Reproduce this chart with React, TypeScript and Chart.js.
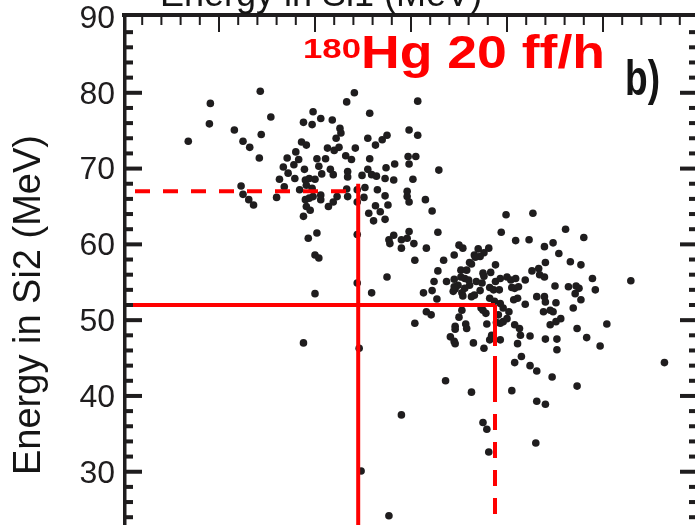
import { useEffect, useRef } from "react";
import { Chart, registerables } from "chart.js";

Chart.register(...registerables);

// Energy (MeV) deposited in Si1 / Si2 for each coincidence event, upper group
const upperSi1 = [
  36.8, 39.1, 39.0, 44.3, 45.4, 41.6, 44.4, 42.5, 43.2, 44.2, 42.3, 42.5, 43.1, 43.6, 46.0, 46.3,
  46.7, 47.1, 46.8, 47.2, 47.8, 48.0, 48.3, 48.6, 49.1, 48.8, 49.7, 49.8, 50.6, 51.8, 52.6, 52.7,
  52.2, 51.3, 52.0, 52.5, 53.3, 54.1, 55.7, 55.5, 56.3, 57.0, 57.5, 59.8, 60.7, 60.7, 54.2, 53.2,
  53.8, 55.7, 48.9, 50.2, 51.1, 50.4, 50.7, 51.6, 51.9, 53.4, 53.4, 54.9, 55.5, 55.9, 56.4, 57.4,
  58.3, 57.3, 58.2, 59.7, 59.8, 60.2, 60.5, 47.9, 49.0, 49.4, 49.1, 50.0, 49.7, 48.4, 49.8, 49.0,
  49.4, 50.6, 50.6, 49.1, 49.5, 51.4, 51.9, 52.3, 53.4, 53.3, 54.4, 54.4, 55.1, 55.2, 56.5, 57.3,
  56.3, 57.6, 56.8, 55.6, 56.1, 57.3, 59.6, 59.8, 59.6, 48.8, 50.2, 49.3, 54.4, 57.7, 58.2, 59.0,
  59.8, 59.6, 60.3, 59.0, 57.8, 50.0, 50.4, 60.4, 62.9, 61.5, 62.2, 69.9, 72.7, 61.6, 62.8,
];
const upperSi2 = [
  73.6, 78.6, 75.9, 80.2, 76.8, 75.1, 74.5, 73.6, 72.8, 71.4, 67.7, 66.6, 65.9, 65.2, 66.2, 68.6,
  70.2, 71.4, 67.6, 69.4, 70.5, 72.2, 71.2, 73.5, 73.1, 76.1, 75.8, 77.5, 76.6, 76.4, 75.3, 74.7,
  74.0, 72.7, 72.4, 72.8, 78.8, 80.0, 77.3, 74.0, 73.1, 73.8, 74.4, 75.1, 74.4, 78.9, 72.7, 71.7,
  71.2, 71.3, 69.9, 71.3, 71.3, 70.3, 69.3, 69.9, 69.2, 69.6, 68.9, 69.1, 69.9, 69.2, 69.0, 70.1,
  70.6, 68.7, 68.5, 71.6, 70.6, 68.6, 71.6, 68.7, 68.5, 68.7, 67.8, 68.6, 67.4, 67.2, 66.3, 65.9,
  66.1, 66.5, 65.9, 65.0, 64.5, 65.0, 65.6, 66.3, 66.3, 67.3, 67.2, 65.6, 66.2, 67.5, 67.2, 66.4,
  65.1, 65.2, 64.3, 64.1, 63.1, 63.3, 66.3, 65.6, 67.0, 63.7, 61.5, 60.8, 61.3, 60.6, 61.2, 60.6,
  61.7, 60.8, 60.1, 59.5, 60.1, 58.6, 58.2, 57.9, 69.8, 65.9, 64.4, 63.9, 64.1, 59.5, 61.6,
];

// Lower group
const lowerSi1 = [
  69.4, 70.9, 72.3, 76.1, 78.0, 73.9, 74.8, 75.4, 63.4, 62.8, 64.5, 65.0, 65.4, 66.6, 67.0, 67.6,
  68.1, 68.8, 76.6, 77.7, 74.0, 73.3, 72.6, 73.4, 73.9, 71.9, 75.0, 76.4, 77.2, 77.5, 77.1, 79.2,
  78.9, 82.9, 77.7, 76.9, 73.1, 73.9, 74.0, 75.1, 73.8, 74.5, 74.8, 75.6, 75.1, 74.5, 77.3, 80.4,
  78.3, 79.7, 75.2, 75.2, 74.0, 72.4, 71.1, 71.4, 71.3, 70.8, 71.5, 70.8, 72.4, 73.1, 74.7, 77.3,
  86.4, 70.5, 66.3, 63.6, 60.4, 61.6, 62.1, 61.3, 62.2, 62.4, 62.7, 63.7, 64.5, 64.6, 65.2, 65.2,
  65.6, 65.8, 66.1, 66.3, 66.0, 66.1, 65.6, 64.9, 64.4, 65.3, 65.4, 66.3, 66.6, 66.8, 67.2, 67.5,
  67.6, 68.3, 68.2, 68.6, 68.8, 69.3, 69.2, 70.0, 70.4, 70.5, 70.9, 70.8, 71.1, 70.7, 71.9, 71.2,
  68.2, 69.3, 69.6, 70.2, 69.1, 69.6, 69.3, 68.9, 67.8, 67.5, 67.3, 65.3, 65.0, 64.6, 64.6, 65.7,
  65.8, 64.1, 64.5, 64.6, 66.5, 67.6, 68.2, 68.4, 67.9, 69.3, 64.5, 67.2, 66.7, 67.4, 68.7, 70.0,
  50.0, 54.4, 55.9, 57.5, 48.8, 54.6, 59.0, 54.8, 57.7, 73.1, 74.0, 67.5, 67.9, 73.0, 68.1,
];
const lowerSi2 = [
  61.6, 60.5, 60.6, 62.0, 60.9, 59.7, 60.2, 58.8, 57.9, 56.5, 58.6, 59.9, 59.5, 58.6, 59.4, 58.9,
  59.5, 57.3, 57.7, 57.3, 57.6, 56.8, 56.5, 56.0, 55.7, 55.3, 54.5, 54.4, 54.5, 54.2, 53.5, 54.0,
  55.5, 55.2, 52.7, 51.6, 53.1, 53.1, 52.4, 52.3, 51.1, 51.3, 51.1, 50.2, 49.8, 49.4, 48.9, 49.5,
  47.7, 46.6, 47.5, 46.1, 47.5, 47.9, 46.9, 48.0, 48.9, 49.4, 45.2, 44.4, 44.0, 43.3, 42.5, 41.3,
  44.4, 40.7, 40.5, 42.0, 49.6, 51.1, 50.7, 53.6, 53.9, 55.1, 52.8, 55.1, 55.4, 54.1, 56.6, 55.7,
  55.5, 56.6, 57.6, 57.4, 55.3, 54.6, 54.2, 54.6, 53.8, 53.6, 53.2, 53.1, 53.3, 55.1, 53.9, 56.2,
  55.8, 56.3, 54.3, 54.0, 55.1, 55.5, 54.0, 55.7, 55.3, 54.3, 55.5, 54.2, 52.9, 52.7, 52.1, 54.4,
  52.9, 52.2, 51.6, 51.1, 50.7, 49.8, 49.6, 49.7, 50.9, 51.3, 51.6, 51.3, 50.4, 49.2, 48.8, 49.5,
  48.9, 47.8, 47.2, 46.9, 47.0, 46.3, 47.4, 48.0, 49.5, 47.4, 54.4, 58.4, 58.3, 54.9, 52.5, 50.2,
  53.5, 54.9, 53.6, 55.7, 47.0, 46.3, 37.5, 30.1, 24.2, 39.3, 38.9, 36.5, 35.6, 33.8, 32.6,
];

// Mean energies of the two groups, marked by the red guide lines
const upperMeanSi1 = 54.5;
const upperMeanSi2 = 67;
const lowerMeanSi1 = 68.75;
const lowerMeanSi2 = 52;

// Axis ranges and labelled ticks
const si1Min = 30;
const si1Max = 90;
const si2Min = 14;
const si2Max = 90;
const si2Labels = [20, 30, 40, 50, 60, 70, 80, 90];

const xTitle = "Energy in Si1 (MeV)";
const yTitle = "Energy in Si2 (MeV)";
const massNumber = "180";
const runLabel = "Hg 20 ff/h";
const panelLabel = "b)";

const INK = "#1f1d1e";
const RED = "#ff0000";
const SANS = "'Liberation Sans', Arial, Helvetica, sans-serif";
const NARROW = "'Liberation Sans Narrow', 'Arial Narrow', " + SANS;

const pairs = (xs: number[], ys: number[]) => xs.map((x, i) => ({ x, y: ys[i] }));
const repeatDash = (on: number, off: number, n: number) =>
  Array.from({ length: n }, () => [on, off]).flat();

// Frame with inward tick marks on the left, right and top, plus the text annotations
const framePlugin = {
  id: "frameAndLabels",
  afterDraw(chart: any) {
    const { ctx, chartArea: a, scales } = chart;
    const xs = scales.x;
    const ys = scales.y;
    ctx.save();
    ctx.fillStyle = INK;
    ctx.fillRect(a.left - 1, a.top - 4, a.right - a.left + 3, 4);
    ctx.fillRect(a.left, a.top - 4, 3.5, a.bottom - a.top + 4);
    ctx.fillRect(a.right - 2, a.top - 4, 3.5, a.bottom - a.top + 4);

    for (let v = Math.ceil(si2Min / 2) * 2; v < si2Max; v += 2) {
      const py = ys.getPixelForValue(v);
      const len = v % 10 === 0 ? 19 : 10;
      ctx.fillRect(a.left, py - 2, len, 4);
      ctx.fillRect(a.right - len, py - 2, len, 4);
    }
    for (let v = si1Min + 2; v < si1Max; v += 2) {
      const px = xs.getPixelForValue(v);
      const len = v % 10 === 0 ? 15 : 8;
      ctx.fillRect(px - 1, a.top, 2, len);
    }

    ctx.textAlign = "left";
    ctx.textBaseline = "alphabetic";
    ctx.font = `36px ${SANS}`;
    ctx.fillStyle = "#151515";
    ctx.fillText(xTitle, a.left + 37, a.top - 11);

    const stretched = (text: string, x: number, y: number, font: string, width: number) => {
      ctx.font = font;
      const w = ctx.measureText(text).width;
      ctx.save();
      ctx.translate(x, y);
      ctx.scale(width / w, 1);
      ctx.fillText(text, 0, 0);
      ctx.restore();
    };
    ctx.fillStyle = RED;
    stretched(massNumber, 303, a.top + 41, `bold 28px ${SANS}`, 58);
    stretched(runLabel, 361, a.top + 51, `bold 46px ${SANS}`, 244);
    ctx.fillStyle = "#141414";
    stretched(panelLabel, 625, a.top + 78, `bold 50px ${SANS}`, 35);
    ctx.restore();
  },
};

export default function App() {
  const canvasRef = useRef<HTMLCanvasElement>(null);

  useEffect(() => {
    const guide = (points: { x: number; y: number }[], dash: number[], offset = 0) => ({
      data: points,
      showLine: true,
      borderColor: RED,
      borderWidth: 4,
      borderDash: dash,
      borderDashOffset: offset,
      borderCapStyle: "butt" as const,
      pointRadius: 0,
      order: 0,
    });

    const chart = new Chart(canvasRef.current!, {
      type: "scatter",
      data: {
        datasets: [
          guide(
            [
              { x: si1Min, y: upperMeanSi2 },
              { x: upperMeanSi1, y: upperMeanSi2 },
            ],
            [15, 13],
            16
          ),
          guide(
            [
              { x: upperMeanSi1, y: upperMeanSi2 + 1 },
              { x: upperMeanSi1, y: si2Min },
            ],
            []
          ),
          guide(
            [
              { x: si1Min, y: lowerMeanSi2 },
              { x: lowerMeanSi1, y: lowerMeanSi2 },
            ],
            []
          ),
          guide(
            [
              { x: lowerMeanSi1, y: lowerMeanSi2 },
              { x: lowerMeanSi1, y: si2Min },
            ],
            [41, 10, 46, 12, ...repeatDash(16, 12, 12)]
          ),
          {
            data: pairs(upperSi1, upperSi2),
            pointRadius: 3.8,
            pointBackgroundColor: INK,
            pointBorderWidth: 0,
            order: 1,
          },
          {
            data: pairs(lowerSi1, lowerSi2),
            pointRadius: 3.8,
            pointBackgroundColor: INK,
            pointBorderWidth: 0,
            order: 1,
          },
        ],
      },
      options: {
        responsive: false,
        animation: false,
        devicePixelRatio: 1,
        layout: { padding: { left: 0, top: 0, right: 21, bottom: 0 } },
        plugins: {
          legend: { display: false },
          tooltip: { enabled: false },
        },
        scales: {
          x: {
            type: "linear",
            position: "top",
            min: si1Min,
            max: si1Max,
            grid: { display: false, drawTicks: false },
            border: { display: false },
            ticks: { display: false },
            afterFit(s: any) {
              s.height = 67;
              s.paddingLeft = 0;
              s.paddingRight = 0;
            },
          },
          y: {
            type: "linear",
            position: "left",
            min: si2Min,
            max: si2Max,
            afterBuildTicks(s: any) {
              s.ticks = si2Labels.map((v) => ({ value: v }));
            },
            grid: { display: false, drawTicks: false },
            border: { display: false },
            ticks: {
              font: { family: NARROW, size: 32 },
              color: INK,
              padding: 8,
              labelOffset: 2,
            },
            title: {
              display: true,
              text: yTitle,
              font: { family: SANS, size: 38 },
              color: "#151515",
              padding: { top: 7, bottom: 0 },
            },
            afterFit(s: any) {
              s.width = 123;
              s.paddingTop = 0;
              s.paddingBottom = 0;
            },
          },
        },
      },
      plugins: [framePlugin],
    });

    return () => chart.destroy();
  }, []);

  return (
    <div
      style={{
        position: "fixed",
        left: 0,
        top: 0,
        width: 695,
        height: 525,
        overflow: "hidden",
        background: "#ffffff",
      }}
    >
      <canvas
        ref={canvasRef}
        width={720}
        height={647}
        style={{ position: "absolute", left: 0, top: -50 }}
      />
    </div>
  );
}
